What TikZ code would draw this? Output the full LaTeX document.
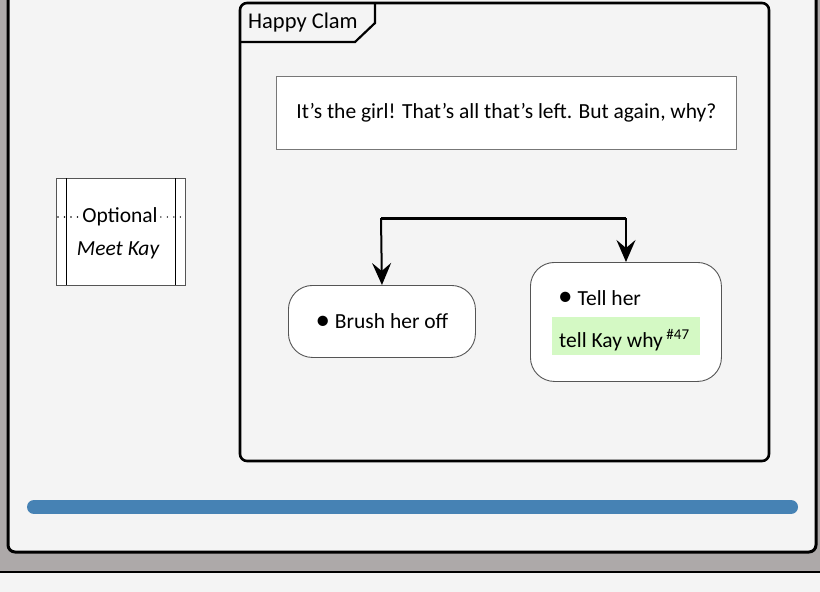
\documentclass[tikz,border=0pt]{standalone}
\usepackage{fontspec}
\setmainfont{Carlito}
\usetikzlibrary{arrows.meta}
\definecolor{bgpaper}{HTML}{F4F4F4}
\definecolor{photo}{HTML}{ADA9A9}
\definecolor{barblue}{HTML}{4682B4}
\definecolor{hlgreen}{HTML}{D4F9C4}
\definecolor{thinborder}{HTML}{555555}
\tikzset{
  frameline/.style={line width=3pt, rounded corners=7pt},
  actbox/.style={draw=thinborder, fill=white, line width=0.9pt, rounded corners=24pt},
  notebox/.style={draw=thinborder!80, fill=white, line width=0.8pt},
  flow/.style={line width=2pt, -{Stealth[length=22pt,width=19pt,inset=8pt]}},
  lbl/.style={font=\fontsize{21.5}{25}\selectfont, inner sep=0pt},
  dotline/.style={line width=1.6pt, line cap=round, dash pattern=on 0pt off 6.5pt},
}
\newcommand{\bigbul}{\raisebox{-0.5pt}{\scalebox{1.35}{\textbullet}}}
\begin{document}
\begin{tikzpicture}[x=1pt,y=-1pt]
\useasboundingbox (0,0) rectangle (820,592);
\clip (0,0) rectangle (820,592);
% background photo and bottom strip
\fill[photo] (0,0) rectangle (820,573);
\fill[bgpaper] (0,573) rectangle (820,592);
\draw[line width=2.5pt] (0,572) -- (820,572);
% outer frame
\draw[frameline, fill=bgpaper] (8,-20) rectangle (816,552);
% blue bar
\draw[barblue, line width=14pt, line cap=round] (34,507) -- (791,507);
% inner frame
\draw[line width=2.6pt, rounded corners=7pt, fill=bgpaper] (240,3) rectangle (769,461);
\draw[line width=2.2pt] (240,42) -- (355,42) -- (375,23) -- (375,3);
\node[lbl, font=\fontsize{22.5}{26}\selectfont, anchor=west] (title) at (248,22) {Happy Clam};
% note
\node[notebox, minimum width=460pt, minimum height=73pt, anchor=north west, inner sep=0pt] (note) at (276,76) {};
\node[lbl] (notetext) at (note.center) {It's the girl! That's all that's left. But again, why?};
% fork
\coordinate (fl) at (381,218);
\coordinate (fr) at (626,218);
\draw[line width=3pt] (fl) -- (fr);
% activities
\node[actbox, minimum width=187pt, minimum height=72pt, anchor=north west, inner sep=0pt] (brush) at (288,285) {};
\node[lbl] (brushtext) at (brush.center) {\bigbul\ Brush her off};
\node[actbox, minimum width=191pt, minimum height=119pt, anchor=north west, inner sep=0pt] (tell) at (530,262) {};
\node[lbl, anchor=west] (telltext) at (558,298) {\bigbul\ Tell her};
\node[fill=hlgreen, minimum width=148pt, minimum height=38pt, anchor=north west, inner sep=0pt] (hl) at (552,317) {};
\node[lbl, anchor=west] (hltext) at (559,340) {tell Kay why\,\raisebox{8pt}{\fontsize{15}{17}\selectfont\#47}};
\draw[flow] (fl) -- (brush.north);
\draw[flow] (fr) -- (fr |- tell.north);
% optional box
\node[draw=thinborder, fill=white, line width=0.8pt, minimum width=129pt, minimum height=107pt, anchor=north west, inner sep=0pt] (opt) at (56,178) {};
\draw[line width=0.8pt] (66,178) -- (66,285);
\draw[line width=0.8pt] (175,178) -- (175,285);
\node[lbl] (optt) at (120,217) {Optional};
\node[lbl] (optk) at (118,250) {\itshape Meet Kay};
\draw[dotline] ([xshift=2pt]opt.west |- optt) -- ([xshift=-1pt]optt.west);
\draw[dotline] ([xshift=3pt]optt.east) -- (opt.east |- optt);
\end{tikzpicture}
\end{document}
